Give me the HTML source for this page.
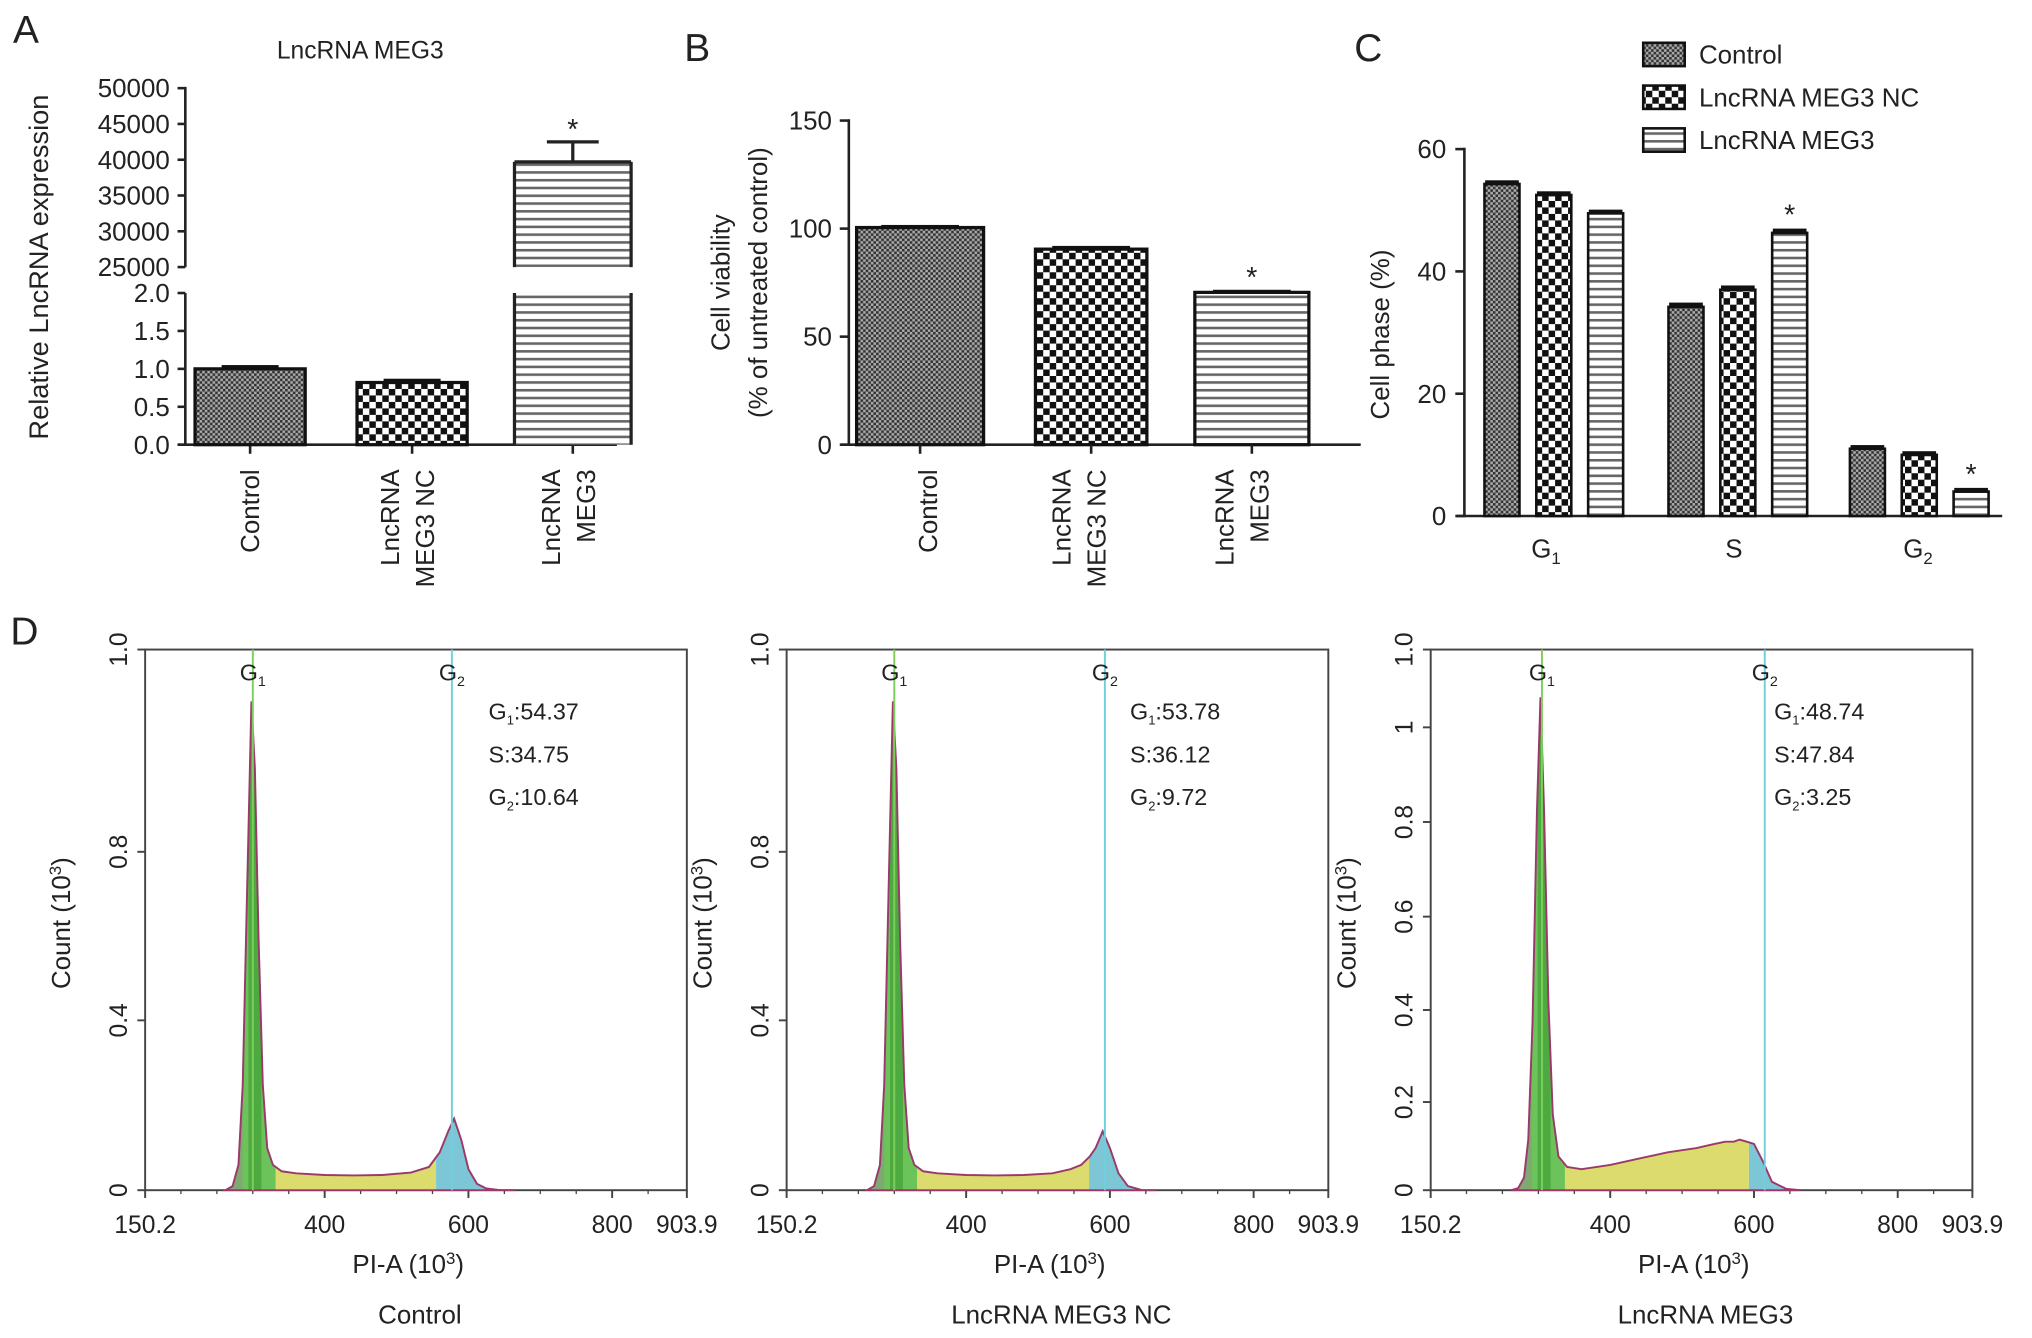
<!DOCTYPE html>
<html><head><meta charset="utf-8"><style>
html,body{margin:0;padding:0;background:#fff}
svg{display:block}
text{font-family:"Liberation Sans",Arial,sans-serif;fill:#222}
</style></head><body>
<svg id="fig" xmlns="http://www.w3.org/2000/svg" width="2032" height="1338" viewBox="0 0 1568 1032" preserveAspectRatio="none">
<defs>
<pattern id="pCtrl" width="4" height="4" patternUnits="userSpaceOnUse"><rect width="4" height="4" fill="#aaa"/><rect width="2" height="2" fill="#333"/><rect x="2" y="2" width="2" height="2" fill="#333"/></pattern>
<pattern id="pNC" width="10" height="10" patternUnits="userSpaceOnUse"><rect width="10" height="10" fill="#fff"/><rect width="5" height="5" fill="#111"/><rect x="5" y="5" width="5" height="5" fill="#111"/></pattern>
<pattern id="pMEG" width="6" height="6" patternUnits="userSpaceOnUse"><rect width="6" height="6" fill="#fff"/><rect y="0" width="6" height="2" fill="#666"/></pattern>
</defs>
</svg>
<script>
// ---------- data ----------
const groupsAB = ["Control", "LncRNA MEG3 NC", "LncRNA MEG3"];
const exprValues = [1.0, 0.82, 39700];
const exprErrors = [0.05, 0.05, 2800];
const viabValues = [100.5, 90.5, 70.5];
const viabErrors = [1.2, 1.5, 1.2];
const phaseCats = ["G1", "S", "G2"];
const phaseControl = [54.3, 34.2, 11.0];
const phaseNC = [52.5, 37.0, 10.0];
const phaseMEG3 = [49.5, 46.3, 4.0];
const phaseErr = [0.6, 0.7, 0.6];
const flowNames = ["Control", "LncRNA MEG3 NC", "LncRNA MEG3"];
const flowStats = [["54.37","34.75","10.64"],["53.78","36.12","9.72"],["48.74","47.84","3.25"]];
const flowG1Pos = [300, 300, 305];
const flowG2Pos = [577, 593, 615];
const flowX = [262,272,280,286,292,298,303,308,314,320,328,340,360,400,440,480,520,545,560,572,580,590,600,612,625,645,665];
const flowY1 = [0,0.01,0.06,0.25,0.7,1.16,1.0,0.6,0.25,0.1,0.06,0.045,0.04,0.036,0.035,0.036,0.042,0.055,0.09,0.14,0.17,0.12,0.05,0.015,0.004,0,0];
const flowY2 = [0,0.01,0.06,0.25,0.7,1.16,1.0,0.6,0.25,0.1,0.06,0.045,0.04,0.036,0.035,0.036,0.04,0.05,0.06,0.08,0.1,0.14,0.1,0.04,0.01,0,0];
const flowY3 = [0,0.005,0.03,0.12,0.4,0.9,1.17,0.9,0.45,0.18,0.08,0.055,0.05,0.06,0.075,0.09,0.1,0.11,0.115,0.115,0.12,0.115,0.11,0.07,0.02,0.003,0];
const flowYs = [flowY1, flowY2, flowY3];
const flowYTicks1 = [["1.0",501],["0.8",657],["0.4",787],["0",918]];
const flowYTicks3 = [["1.0",501],["1",561],["0.8",634],["0.6",707],["0.4",779],["0.2",850],["0",918]];
const flowXTicks = [150.2, 400, 600, 800, 903.9];

const NS = "http://www.w3.org/2000/svg";
const svg = document.getElementById("fig");
function el(tag, attrs, parent) {
  const e = document.createElementNS(NS, tag);
  for (const k in attrs) e.setAttribute(k, attrs[k]);
  (parent || svg).appendChild(e);
  return e;
}
function txt(s, x, y, size, anchor, parent, rot) {
  const t = el("text", {x: x, y: y, "font-size": size, "text-anchor": anchor || "middle"}, parent);
  if (rot) t.setAttribute("transform", "rotate(" + rot + " " + x + " " + y + ")");
  t.textContent = s;
  return t;
}
function line(x1, y1, x2, y2, w, parent, col) {
  return el("line", {x1: x1, y1: y1, x2: x2, y2: y2, stroke: col || "#222", "stroke-width": w || 2}, parent);
}
const pats = ["url(#pCtrl)", "url(#pNC)", "url(#pMEG)"];

// ---------- Panel A ----------
const gA = el("g", {});


let t = txt("A", 10, 33, 30, "start", gA);


t = txt("LncRNA MEG3", 278, 45, 19, "middle", gA);


const yUpper = v => 206 - (v - 25000) / 5000 * 27.6;
const yLower = v => 343 - v / 0.5 * 29.25;
const axA = 143;
line(axA, 67, axA, 206, 2, gA); line(axA, 226, axA, 344, 2, gA);
line(137, 343, 476, 343, 2, gA);
[25000,30000,35000,40000,45000,50000].forEach(v => { line(137, yUpper(v), axA, yUpper(v), 2, gA); txt(String(v), 131, yUpper(v) + 7, 20, "end", gA); });
[0,0.5,1,1.5,2].forEach(v => { line(137, yLower(v), axA, yLower(v), 2, gA); txt(v.toFixed(1), 131, yLower(v) + 7, 20, "end", gA); });
t = txt("Relative LncRNA expression", 37, 206, 21, "middle", gA, -90);


const xA = [193, 318, 442];
groupsAB.forEach((g, i) => {
  const cx = xA[i], w = i === 2 ? 90 : 85, v = exprValues[i], e = exprErrors[i];
  line(cx, 343, cx, 350, 2, gA);
  if (v <= 2) {
    const r = el("rect", {x: cx - w/2, y: yLower(v), width: w, height: 343 - yLower(v), fill: pats[i], stroke: "#111", "stroke-width": 2.5}, gA);
    
    
    el("rect", {x: cx - 22, y: yLower(v + e), width: 44, height: yLower(v) - yLower(v + e), fill: "#111"}, gA);
  } else {
    const r1 = el("rect", {x: cx - w/2, y: 226, width: w, height: 117, fill: pats[i]}, gA);
    
    
    line(cx - w/2, 226, cx - w/2, 343, 2.5, gA); line(cx + w/2, 226, cx + w/2, 343, 2.5, gA);
    const r2 = el("rect", {x: cx - w/2, y: yUpper(v), width: w, height: 206 - yUpper(v), fill: pats[i]}, gA);
    
    
    line(cx - w/2, 206, cx - w/2, yUpper(v), 2.5, gA); line(cx + w/2, 206, cx + w/2, yUpper(v), 2.5, gA); line(cx - w/2, yUpper(v), cx + w/2, yUpper(v), 2.5, gA);
    line(cx, yUpper(v), cx, yUpper(v + e), 2.5, gA); line(cx - 20, yUpper(v + e), cx + 20, yUpper(v + e), 2.5, gA);
    txt("*", cx, yUpper(v + e) - 2, 22, "middle", gA);
  }
});
txt("Control", xA[0] + 7, 362, 20, "end", gA, -90);
txt("LncRNA", xA[1] - 10, 362, 20, "end", gA, -90); txt("MEG3 NC", xA[1] + 17, 362, 20, "end", gA, -90);
txt("LncRNA", xA[2] - 10, 362, 20, "end", gA, -90); txt("MEG3", xA[2] + 17, 362, 20, "end", gA, -90);

// ---------- Panel B ----------
const gB = el("g", {});


t = txt("B", 528, 47, 30, "start", gB);


const yB = v => 343 - v / 150 * 250;
line(655, 92, 655, 344, 2, gB); line(649, 343, 1050, 343, 2, gB);
[0,50,100,150].forEach(v => { line(648, yB(v), 655, yB(v), 2, gB); txt(String(v), 642, yB(v) + 7, 20, "end", gB); });
txt("Cell viability", 563, 218, 20, "middle", gB, -90);
txt("(% of untreated control)", 592, 218, 20, "middle", gB, -90);
const xB = [710, 842, 966], wB = [98, 86, 88];
groupsAB.forEach((g, i) => {
  const cx = xB[i], w = wB[i], v = viabValues[i], e = viabErrors[i];
  const r = el("rect", {x: cx - w/2, y: yB(v), width: w, height: 343 - yB(v), fill: pats[i], stroke: "#111", "stroke-width": 2.5}, gB);
  
  
  el("rect", {x: cx - 30, y: yB(v + e), width: 60, height: yB(v) - yB(v + e) + 1, fill: "#111"}, gB);
  line(cx, 343, cx, 350, 2, gB);
  if (i === 2) txt("*", cx, yB(v + e) - 2, 22, "middle", gB);
});
txt("Control", xB[0] + 13, 362, 20, "end", gB, -90);
txt("LncRNA", xB[1] - 16, 362, 20, "end", gB, -90); txt("MEG3 NC", xB[1] + 11, 362, 20, "end", gB, -90);
txt("LncRNA", xB[2] - 14, 362, 20, "end", gB, -90); txt("MEG3", xB[2] + 13, 362, 20, "end", gB, -90);

// ---------- Panel C ----------
const gC = el("g", {});


t = txt("C", 1045, 47, 30, "start", gC);


const yC = v => 398 - v / 60 * 283;
line(1130, 114, 1130, 399, 2, gC); line(1124, 398, 1545, 398, 2, gC);
[0,20,40,60].forEach(v => { line(1123, yC(v), 1130, yC(v), 2, gC); txt(String(v), 1116, yC(v) + 7, 20, "end", gC); });
txt("Cell phase (%)", 1072, 258, 20, "middle", gC, -90);
const groupCX = [1199, 1341, 1481];
const series = [phaseControl, phaseNC, phaseMEG3];
const labelsLeg = ["Control", "LncRNA MEG3 NC", "LncRNA MEG3"];
phaseCats.forEach((c, gi) => {
  series.forEach((s, si) => {
    const cx = groupCX[gi] + (si - 1) * 40, v = s[gi], w = 27;
    const r = el("rect", {x: cx - w/2, y: yC(v), width: w, height: 398 - yC(v), fill: pats[si], stroke: "#111", "stroke-width": 2}, gC);
    
    
    el("rect", {x: cx - 13, y: yC(v + phaseErr[gi]), width: 26, height: yC(v) - yC(v + phaseErr[gi]) + 1, fill: "#111"}, gC);
    if (si === 2 && gi > 0) txt("*", cx, yC(v + phaseErr[gi]) - 3, 22, "middle", gC);
  });
});
const gl1 = el("text", {x: 1193, y: 430, "font-size": 20, "text-anchor": "middle"}, gC); gl1.innerHTML = 'G<tspan font-size="13" dy="5">1</tspan>';
txt("S", 1338, 430, 20, "middle", gC);
const gl2 = el("text", {x: 1480, y: 430, "font-size": 20, "text-anchor": "middle"}, gC); gl2.innerHTML = 'G<tspan font-size="13" dy="5">2</tspan>';
labelsLeg.forEach((l, i) => {
  const y = 42 + i * 33;
  const b = el("rect", {x: 1268, y: y - 9, width: 32, height: 18, fill: pats[i], stroke: "#111", "stroke-width": 2}, gC);
  
  
  const lt = txt(l, 1311, y + 7, 20, "start", gC);
  
  
});

// ---------- Panel D ----------
t = txt("D", 8, 497, 30, "start");


const lefts = [112, 607, 1104];
flowNames.forEach((name, p) => {
  const L = lefts[p], W = 418, T = 501, B = 918;
  const g = el("g", {});
  
  
  const xs = v => L + (v - 150.2) / 753.7 * W;
  const ys = c => B - c * 325;
  el("rect", {x: L, y: T, width: W, height: B - T, fill: "none", stroke: "#444", "stroke-width": 1.5}, g);
  flowXTicks.forEach(v => { line(xs(v), B, xs(v), B + 6, 1.5, g, "#444"); txt(String(v), xs(v), B + 33, 19, "middle", g); });
  for (let v = 200; v < 900; v += 50) line(xs(v), B, xs(v), B + 3, 1, g, "#444");
  const yt = p === 2 ? flowYTicks3 : flowYTicks1;
  yt.forEach(tk => { line(L - 6, tk[1], L, tk[1], 1.5, g, "#444"); txt(tk[0], L - 14, tk[1], 19, "middle", g, -90); });
  const xsA = flowX, ysA = flowYs[p];
  let d = "M" + xs(xsA[0]) + "," + B;
  xsA.forEach((v, i) => { d += " L" + xs(v).toFixed(1) + "," + ys(ysA[i]).toFixed(1); });
  d += " L" + xs(xsA[xsA.length - 1]) + "," + B + " Z";
  const cid = "clip" + p;
  const cp = el("clipPath", {id: cid}, g); el("path", {d: d}, cp);
  const g1end = flowG1Pos[p] + 32, g2start = flowG2Pos[p] - 22;
  const fg = el("g", {"clip-path": "url(#" + cid + ")"}, g);
  el("rect", {x: L, y: T, width: xs(g1end) - L, height: B - T, fill: "#6cc35a"}, fg);
  el("rect", {x: xs(flowG1Pos[p] - 6), y: T, width: 10, height: B - T, fill: "#3f9f35", opacity: 0.7}, fg);
  el("rect", {x: L, y: T, width: xs(flowG1Pos[p] - 14) - L, height: B - T, fill: "#8a9a80", opacity: 0.6}, fg);
  el("rect", {x: xs(g1end), y: T, width: xs(g2start) - xs(g1end), height: B - T, fill: "#dcdc6e"}, fg);
  el("rect", {x: xs(g2start), y: T, width: L + W - xs(g2start), height: B - T, fill: "#7cc6d6"}, fg);
  const hp = el("path", {d: d, fill: "none", stroke: "#9a3a6a", "stroke-width": 1.5}, g);
  
  
  const l1 = line(xs(flowG1Pos[p]), T, xs(flowG1Pos[p]), B, 1.5, g, "#7ccf5a");
  
  
  const l2 = line(xs(flowG2Pos[p]), T, xs(flowG2Pos[p]), B, 1.5, g, "#6fcfdf");
  
  
  const a = el("text", {x: xs(flowG1Pos[p]), y: 525, "font-size": 18, "text-anchor": "middle"}, g); a.innerHTML = 'G<tspan font-size="11" dy="4">1</tspan>';
  const b = el("text", {x: xs(flowG2Pos[p]), y: 525, "font-size": 18, "text-anchor": "middle"}, g); b.innerHTML = 'G<tspan font-size="11" dy="4">2</tspan>';
  const sx = L + 265;
  const s1 = el("text", {x: sx, y: 555, "font-size": 18}, g); s1.innerHTML = 'G<tspan font-size="10" dy="4">1</tspan><tspan dy="-4">:' + flowStats[p][0] + '</tspan>';
  txt("S:" + flowStats[p][1], sx, 588, 18, "start", g);
  const s3 = el("text", {x: sx, y: 621, "font-size": 18}, g); s3.innerHTML = 'G<tspan font-size="10" dy="4">2</tspan><tspan dy="-4">:' + flowStats[p][2] + '</tspan>';
  const yt2 = el("text", {x: L - 58, y: 712, "font-size": 20, "text-anchor": "middle", transform: "rotate(-90 " + (L - 58) + " 712)"}, g);
  yt2.innerHTML = 'Count (10<tspan font-size="13" dy="-7">3</tspan><tspan dy="7">)</tspan>';
  const xt = el("text", {x: L + 203, y: 982, "font-size": 20, "text-anchor": "middle"}, g);
  xt.innerHTML = 'PI-A (10<tspan font-size="13" dy="-7">3</tspan><tspan dy="7">)</tspan>';
  const nt = txt(name, L + 212, 1021, 20, "middle", g);
  
  
});
</script>
</body></html>
